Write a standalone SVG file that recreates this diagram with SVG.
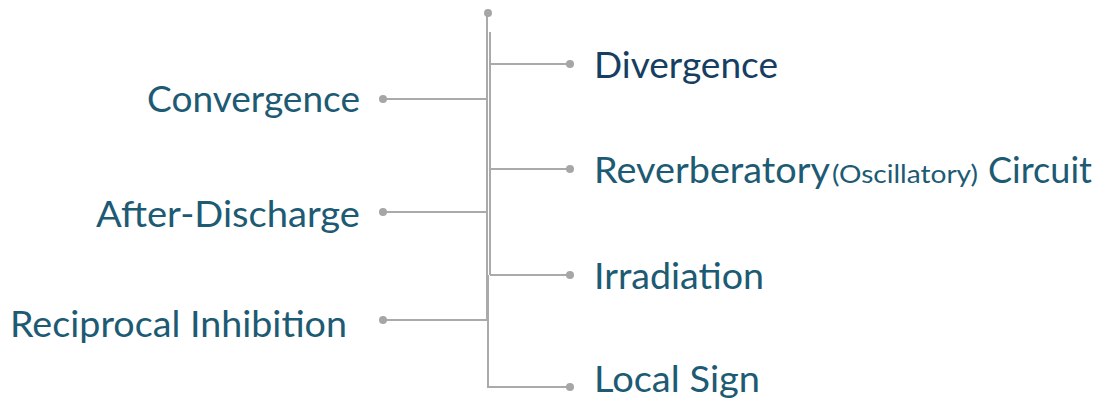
<svg xmlns="http://www.w3.org/2000/svg" width="1103" height="405" viewBox="0 0 1103 405">
<style>
.ln{fill:none;stroke:#aaaaaa;stroke-width:2}
.dot{fill:#a6a6a6}
.t{font-family:Lato,"Noto Sans","Liberation Sans",sans-serif;font-size:36px;fill:#1d5a73}
.s{font-size:25px}
.dv{fill:#163e63}
</style>
<rect width="1103" height="405" fill="#ffffff"/>
<g id="connectors">
<path class="ln" d="M487,13 V320"/>
<path class="ln" d="M490,32 V275"/>
<path class="ln" d="M488,275 V387 H570"/>
<path class="ln" d="M490,64 H570"/>
<path class="ln" d="M490,169 H570"/>
<path class="ln" d="M490,275 H570"/>
<path class="ln" d="M383,99 H487"/>
<path class="ln" d="M383,212 H487"/>
<path class="ln" d="M383,320 H487"/>
<circle class="dot" cx="488" cy="13" r="4"/>
</g>
<g id="divergence"><circle class="dot" cx="570" cy="64" r="4"/><text class="t dv" x="594" y="78" textLength="184" lengthAdjust="spacingAndGlyphs">Divergence</text></g>
<g id="reverberatory"><circle class="dot" cx="570" cy="169" r="4"/><text class="t" y="183"><tspan x="594" textLength="236" lengthAdjust="spacingAndGlyphs">Reverberatory</tspan><tspan class="s" x="832" textLength="146" lengthAdjust="spacingAndGlyphs">(Oscillatory)</tspan><tspan x="988" textLength="104" lengthAdjust="spacingAndGlyphs">Circuit</tspan></text></g>
<g id="irradiation"><circle class="dot" cx="570" cy="275" r="4"/><text class="t" x="594" y="289" textLength="170" lengthAdjust="spacingAndGlyphs">Irradiation</text></g>
<g id="localsign"><circle class="dot" cx="570" cy="387" r="4"/><text class="t" x="594" y="392" textLength="166" lengthAdjust="spacingAndGlyphs">Local Sign</text></g>
<g id="convergence"><circle class="dot" cx="383" cy="99" r="4"/><text class="t" x="147" y="112" textLength="213" lengthAdjust="spacingAndGlyphs">Convergence</text></g>
<g id="afterdischarge"><circle class="dot" cx="383" cy="212" r="4"/><text class="t" x="96" y="227" textLength="264" lengthAdjust="spacingAndGlyphs">After-Discharge</text></g>
<g id="reciprocal"><circle class="dot" cx="383" cy="320" r="4"/><text class="t" x="10" y="337" textLength="337" lengthAdjust="spacingAndGlyphs">Reciprocal Inhibition</text></g>
</svg>
